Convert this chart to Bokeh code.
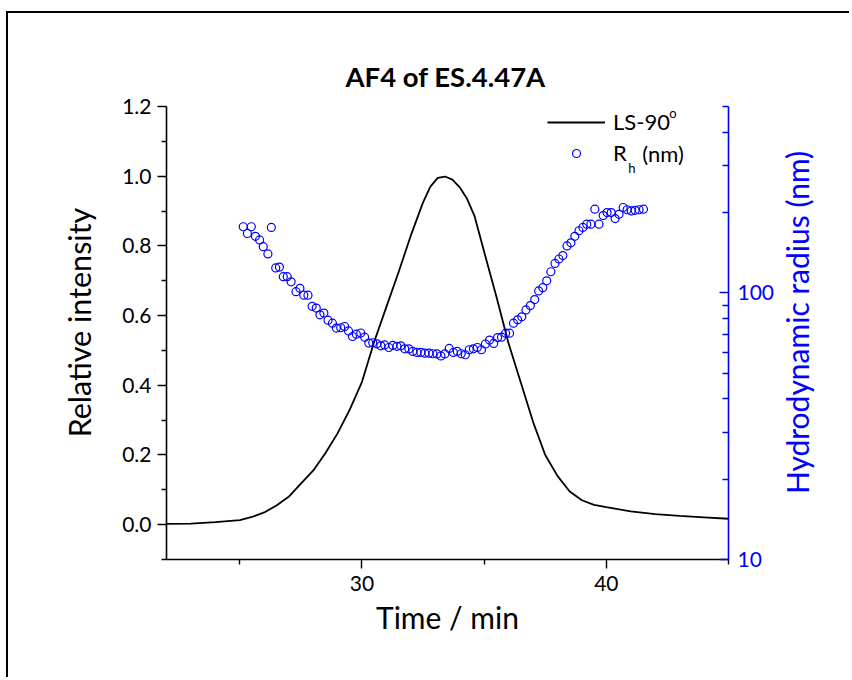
import math
from bokeh.plotting import figure
from bokeh.models import (Range1d, LogAxis, LogScale, FixedTicker, PrintfTickFormatter,
                          Legend, LegendItem, Label)
from bokeh.embed import file_html
from bokeh.resources import INLINE

# ---- data ----
ls_time = [22.0, 23.0, 24.0, 25.0, 25.5, 26.0, 26.5, 27.0, 27.5, 28.0, 28.5, 29.0, 29.5,
           30.0, 30.5, 31.0, 31.5, 32.0, 32.5, 32.8, 33.1, 33.4, 33.7, 34.0, 34.3, 34.6,
           35.0, 35.5, 36.0, 36.5, 37.0, 37.5, 38.0, 38.5, 39.0, 39.5, 40.0, 41.0, 42.0,
           43.0, 44.0, 45.0]
ls_intensity = [0.002, 0.003, 0.007, 0.013, 0.022, 0.035, 0.055, 0.080, 0.118, 0.155, 0.205,
                0.262, 0.330, 0.410, 0.525, 0.625, 0.725, 0.830, 0.925, 0.970, 0.995, 0.999,
                0.990, 0.968, 0.935, 0.887, 0.783, 0.655, 0.520, 0.408, 0.295, 0.200, 0.140,
                0.095, 0.070, 0.057, 0.050, 0.038, 0.030, 0.025, 0.021, 0.017]

rh_time = [25.14, 25.31, 25.47, 25.64, 25.81, 25.96, 26.15, 26.29, 26.47, 26.62, 26.78, 26.94,
           27.10, 27.30, 27.46, 27.62, 27.79, 27.96, 28.13, 28.28, 28.44, 28.61, 28.79, 28.95,
           29.13, 29.29, 29.45, 29.61, 29.77, 29.95, 30.11, 30.28, 30.44, 30.61, 30.77, 30.93,
           31.10, 31.26, 31.43, 31.59, 31.75, 31.92, 32.08, 32.25, 32.41, 32.57, 32.74, 32.90,
           33.07, 33.23, 33.39, 33.57, 33.74, 33.90, 34.06, 34.23, 34.39, 34.56, 34.72, 34.89,
           35.05, 35.22, 35.39, 35.55, 35.71, 35.88, 36.04, 36.20, 36.37, 36.54, 36.71, 36.89,
           37.07, 37.23, 37.40, 37.56, 37.73, 37.90, 38.06, 38.22, 38.39, 38.55, 38.71, 38.88,
           39.04, 39.20, 39.37, 39.53, 39.70, 39.87, 40.03, 40.20, 40.36, 40.52, 40.69, 40.85,
           41.02, 41.18, 41.34, 41.52]
rh_nm = [177, 167, 177, 163, 158, 149, 140, 176, 124, 125, 115, 115,
         110, 101, 104, 98, 98, 89, 87.7, 82.7, 84, 79, 77, 73.8,
         74, 74.8, 72, 68.6, 70, 70.7, 68.2, 64.8, 65, 64.4, 63.3, 63.8,
         62.4, 63.5, 63, 63.3, 61.7, 61.6, 60.3, 59.8, 59.8, 59.4, 59.4, 59.1,
         59, 58, 59, 61.9, 59.8, 60.3, 59.1, 58.6, 61.2, 61.7, 62.4, 61.2,
         64.3, 66.5, 64.6, 68, 68.2, 70.6, 70.6, 77, 79.2, 81.3, 86.3, 89.6,
         94.4, 101.7, 104.6, 111, 120, 129, 134, 138, 150, 154, 163, 171,
         176, 181, 181, 206, 181, 195, 200, 200, 190, 197, 209, 205,
         203, 204, 205, 206]

x_major = [30, 40]
x_minor = [25, 35, 45]
y_major = [0.0, 0.2, 0.4, 0.6, 0.8, 1.0, 1.2]
y_minor = [-0.1, 0.1, 0.3, 0.5, 0.7, 0.9, 1.1]
rh_major = [10, 100]
rh_minor = [20, 30, 40, 50, 60, 70, 80, 90, 200, 300, 400, 500]

title_text = "AF4 of ES.4.47A"
x_label = "Time / min"
y_label = "Relative intensity"
rh_label = "Hydrodynamic radius (nm)"

FONT = "Lato"
BLUE = "#0000FF"

p = figure(width=843, height=666, x_range=Range1d(22, 45), y_range=Range1d(-0.1, 1.2),
           output_backend="svg", toolbar_location=None,
           min_border_left=158, min_border_right=123, min_border_top=93, min_border_bottom=120)
p.styles = {"border-top": "2px solid black", "border-left": "2px solid black",
            "margin-top": "11px", "margin-left": "6px"}
p.extra_y_ranges = {"rh": Range1d(10, 500)}
p.extra_y_scales = {"rh": LogScale()}
p.grid.visible = False
p.outline_line_color = None
p.background_fill_color = "white"
p.border_fill_color = "white"

p.title.text = title_text
p.title.text_font = FONT
p.title.text_font_size = "27.5px"
p.title.text_font_style = "bold"
p.title.text_color = "black"
p.title.align = "left"
p.title.offset = 179
p.title.standoff = 28

def style_axis(ax, color):
    ax.axis_line_color = color
    ax.axis_line_width = 1.6
    ax.major_tick_line_color = color
    ax.minor_tick_line_color = color
    ax.major_tick_line_width = 1.4
    ax.minor_tick_line_width = 1.4
    ax.major_label_text_font = FONT
    ax.major_label_text_font_size = "21px"
    ax.major_label_text_color = color
    ax.axis_label_text_font = FONT
    ax.axis_label_text_font_size = "30px"
    ax.axis_label_text_font_style = "normal"
    ax.axis_label_text_color = color

xa = p.xaxis[0]
xa.ticker = FixedTicker(ticks=x_major, minor_ticks=x_minor)
xa.formatter = PrintfTickFormatter(format="%d")
xa.axis_label = x_label
style_axis(xa, "black")
xa.major_tick_in = 0
xa.major_tick_out = 9
xa.minor_tick_in = 0
xa.minor_tick_out = 5
xa.major_label_standoff = 7
xa.axis_label_standoff = 5

ya = p.yaxis[0]
ya.ticker = FixedTicker(ticks=y_major, minor_ticks=y_minor)
ya.formatter = PrintfTickFormatter(format="%.1f")
style_axis(ya, "black")
ya.major_tick_in = 0
ya.major_tick_out = 9
ya.minor_tick_in = 0
ya.minor_tick_out = 5
ya.major_label_standoff = 6

ra = LogAxis(y_range_name="rh", ticker=FixedTicker(ticks=rh_major, minor_ticks=rh_minor),
             formatter=PrintfTickFormatter(format="%d"))
style_axis(ra, BLUE)
ra.major_tick_in = 9
ra.major_tick_out = 0
ra.minor_tick_in = 6
ra.minor_tick_out = 0
ra.major_label_standoff = 9
p.add_layout(ra, "right")

line_r = p.line(ls_time, ls_intensity, line_color="black", line_width=1.8)
pts_r = p.scatter(rh_time, rh_nm, y_range_name="rh", marker="circle", size=8,
                  fill_color=None, line_color=BLUE, line_width=1.2)

legend = Legend(items=[LegendItem(label="LS-90", renderers=[line_r]),
                       LegendItem(label="R", renderers=[pts_r])],
                location=(381, 393), glyph_width=58, glyph_height=20, label_height=20,
                label_standoff=8, spacing=4, padding=0, margin=0,
                border_line_color=None, background_fill_alpha=0,
                label_text_font=FONT, label_text_font_size="22px", label_text_color="black")
p.add_layout(legend)

def t_of(px):
    return 22 + (px - 166) / 24.45

def v_of(py):
    return (559 - py) / 348.5 - 0.1

p.add_layout(Label(x=t_of(669), y=v_of(112), text="o", text_font=FONT, text_font_size="13px",
                   text_baseline="middle", text_color="black"))
p.add_layout(Label(x=t_of(628), y=v_of(167), text="h", text_font=FONT, text_font_size="13px",
                   text_baseline="middle", text_color="black"))
p.add_layout(Label(x=t_of(642), y=v_of(153), text="(nm)", text_font=FONT, text_font_size="22px",
                   text_baseline="middle", text_color="black"))
p.add_layout(Label(x=t_of(78), y=v_of(322), text=y_label, angle=math.pi / 2,
                   text_align="center", text_baseline="middle", text_font=FONT,
                   text_font_size="30.5px", text_color="black"), "left")
p.add_layout(Label(x=t_of(797), y=v_of(322), text=rh_label, angle=math.pi / 2,
                   text_align="center", text_baseline="middle", text_font=FONT,
                   text_font_size="30px", text_color=BLUE), "right")

open("out.html", "w").write(file_html(p, INLINE))
